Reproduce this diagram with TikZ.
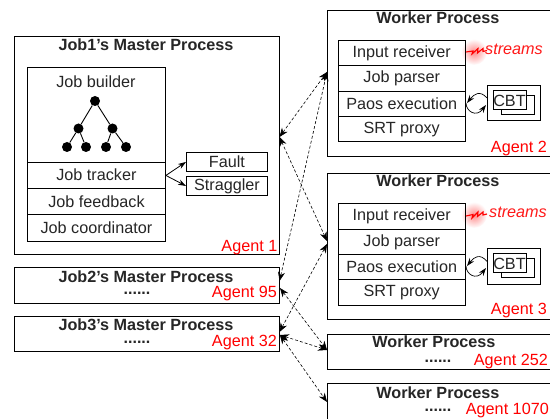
\documentclass[tikz,border=0pt]{standalone}
\usepackage{fontspec}
\setmainfont{Liberation Sans}
\usetikzlibrary{arrows.meta}
\definecolor{ink}{gray}{0.15}
\tikzset{
  x=1pt,y=-1pt,
  box/.style={draw=black,line width=0.9pt,inner sep=0pt,anchor=north west,text=ink,font=\fontsize{16.2}{18}\selectfont},
  title/.style={font=\fontsize{16.2}{18}\selectfont\bfseries,text=ink,inner sep=0pt},
  lab/.style={font=\fontsize{16.2}{18}\selectfont,text=ink,inner sep=0pt},
  agent/.style={font=\fontsize{16.2}{18}\selectfont,text=red,inner sep=0pt,anchor=base east},
  stream/.style={font=\fontsize{16.2}{18}\selectfont\itshape,text=red!90!white,inner sep=0pt},
  dots/.style={font=\fontsize{16}{18}\selectfont\bfseries,text=ink,inner sep=0pt,anchor=base},
  vertex/.style={circle,fill=black,draw=none,minimum size=10pt,inner sep=0pt},
  link/.style={draw=black,line width=0.6pt,densely dashed,{Stealth[length=9pt,width=7pt]}-{Stealth[length=9pt,width=7pt]}},
  solidarrow/.style={draw=black,line width=0.8pt,-{Stealth[length=8pt,width=5.5pt]}},
  bolt/.style={draw=red,line width=1.1pt,line join=miter},
  glow/.style={inner color=red!45,outer color=white,draw=none},
}
\newcommand{\wbox}[5]{\node[box,minimum width=#3pt,minimum height=#4pt] (#1) at #2 {#5};}
\begin{document}
\begin{tikzpicture}
\useasboundingbox (0,0) rectangle (550,419);
\clip (0,0) rectangle (550,419);
\fill[white] (0,0) rectangle (550,419);
% glows
\shade[glow] (474,52) circle (13);
\shade[glow] (474,215) circle (13);
% master 1
\wbox{job1}{(14,36)}{265}{218}{}
\node[title] (job1t) at (146,45) {Job1's Master Process};
\wbox{builder}{(27,67)}{138}{95}{}
\node[lab] (builderl) at (96,82) {Job builder};
\wbox{tracker}{(27,162)}{138}{26}{\raisebox{1.5pt}{Job tracker}}
\wbox{feedback}{(27,188)}{138}{26}{Job feedback}
\wbox{coord}{(27,214)}{138}{27}{Job coordinator}
\wbox{fault}{(186,152)}{81}{19}{Fault}
\wbox{straggler}{(186,176)}{81}{19}{Straggler}
\node[agent] (a1) at (277.5,252) {Agent 1};
% tree
\node[vertex] (r) at (95,101) {};
\node[vertex] (l) at (78.5,128.5) {};
\node[vertex] (m) at (112.5,128.5) {};
\node[vertex] (l1) at (67,147) {};
\node[vertex] (l2) at (86,147) {};
\node[vertex] (l3) at (106,147) {};
\node[vertex] (l4) at (126,147) {};
\draw[line width=0.9pt] (r)--(l) (r)--(m) (l)--(l1) (l)--(l2) (m)--(l3) (m)--(l4);
\draw[solidarrow] (tracker.east) -- (fault.west);
\draw[solidarrow] (tracker.east) -- (straggler.west);
% master 2,3
\wbox{job2}{(14,267)}{265}{36}{}
\node[title] (job2t) at (146,277) {Job2's Master Process};
\node[dots] (d2) at (137,295) {......};
\node[agent] (a95) at (277,298) {Agent 95};
\wbox{job3}{(14,316)}{265}{35}{}
\node[title] (job3t) at (146,325) {Job3's Master Process};
\node[dots] (d3) at (137,344) {......};
\node[agent] (a32) at (277,347) {Agent 32};
% worker 2
\wbox{w2}{(326.5,10)}{230}{146.5}{}
\node[title] (w2t) at (438,18) {Worker Process};
\wbox{ir2}{(337.5,40)}{127.5}{25.5}{Input receiver}
\wbox{jp2}{(337.5,65.5)}{127.5}{25.5}{Job parser}
\wbox{pe2}{(337.5,91)}{127.5}{25.5}{Paos execution}
\wbox{sp2}{(337.5,116.5)}{127.5}{25}{SRT proxy}
\node[agent] (a2) at (547,153) {Agent 2};
\node[stream] (s2) at (514,49) {streams};
\draw[bolt] (466,52) -- (473,51) -- (472,54) -- (478,48.5) -- (477.5,53) -- (483,48.5) -- (483,51.5) -- (487,50.5);
\wbox{cbto2}{(487,85)}{53}{35}{}
\wbox{cbtb2}{(501,95)}{33}{19}{}
\node[box,minimum width=33pt,minimum height=19pt,fill=white] (cbt2) at (492.5,90.5) {CBT};
\draw[solidarrow,line width=0.7pt] (cbto2.west) ++(0,-5) .. controls (480,90) and (474,94) .. (467,103);
\draw[solidarrow,line width=0.7pt] (466,103) .. controls (466,111) and (476,118) .. (486,105);
% worker 3
\wbox{w3}{(326.5,173)}{230}{146}{}
\node[title] (w3t) at (438,181) {Worker Process};
\wbox{ir3}{(337.5,203.5)}{127.5}{25.5}{Input receiver}
\wbox{jp3}{(337.5,229)}{127.5}{25}{Job parser}
\wbox{pe3}{(337.5,254)}{127.5}{25.5}{Paos execution}
\wbox{sp3}{(337.5,279.5)}{127.5}{25.5}{SRT proxy}
\node[agent] (a3) at (547,315) {Agent 3};
\node[stream] (s3) at (518,212) {streams};
\draw[bolt] (466,216) -- (473,214.5) -- (472,218) -- (478,212) -- (477.5,216.5) -- (483,212) -- (483,215) -- (487,214);
\wbox{cbto3}{(487,248)}{53}{36}{}
\wbox{cbtb3}{(501,258)}{33}{19}{}
\node[box,minimum width=33pt,minimum height=19pt,fill=white] (cbt3) at (492.5,253.5) {CBT};
\draw[solidarrow,line width=0.7pt] (cbto3.west) ++(0,-5) .. controls (480,253) and (474,257) .. (467,266);
\draw[solidarrow,line width=0.7pt] (466,266) .. controls (466,274) and (476,281) .. (486,268);
% worker 252, 1070
\wbox{w252}{(326.5,334)}{230}{35}{}
\node[title] (w252t) at (434,342) {Worker Process};
\node[dots] (d252) at (438,363) {......};
\node[agent] (a252) at (548,366) {Agent 252};
\wbox{w1070}{(326.5,383)}{230}{45}{}
\node[title] (w1070t) at (438,393) {Worker Process};
\node[dots] (d1070) at (438,412) {......};
\node[agent] (a1070) at (549,415) {Agent 1070};
% ports
\coordinate (p1) at (279.5,137);
\coordinate (p2a) at (279.5,281);
\coordinate (p2b) at (280,288);
\coordinate (p3a) at (279.5,332);
\coordinate (p3b) at (280,335);
\coordinate (q2) at (327,72);
\coordinate (q3a) at (327,241);
\coordinate (q3b) at (327,244);
\coordinate (q252) at (327,350);
\coordinate (q1070) at (327,402);
\draw[link] (p1) -- (q2);
\draw[link] (p1) -- (q3a);
\draw[link] (p2a) -- (q2);
\draw[link] (p3a) -- (q3b);
\draw[link] (p2b) -- (q252);
\draw[link] (p3b) -- (q252);
\draw[link] (p3b) -- (q1070);
\end{tikzpicture}
\end{document}
